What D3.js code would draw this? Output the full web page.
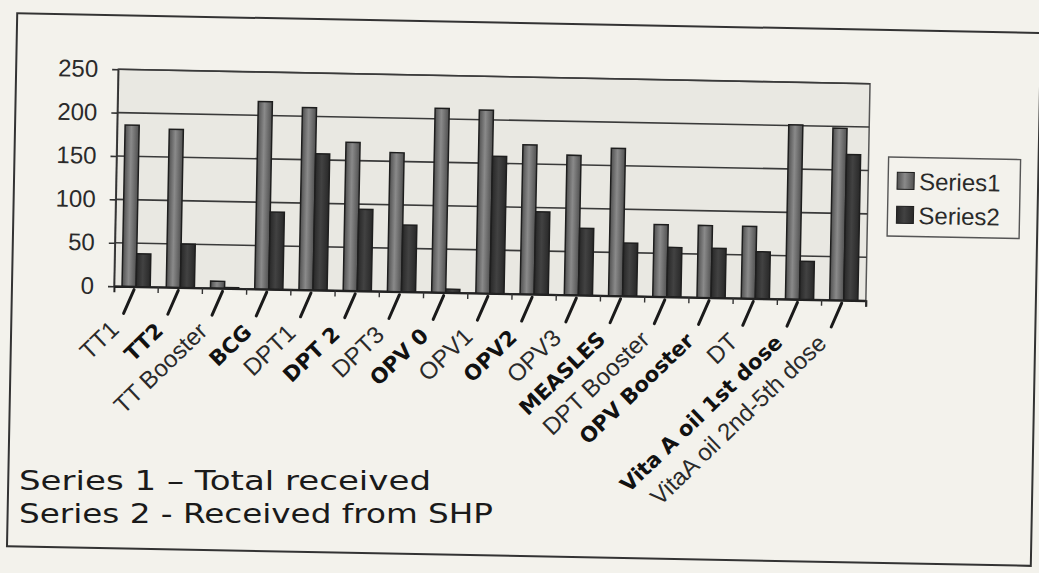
<!DOCTYPE html>
<html lang="en">
  <head>
    <meta charset="utf-8" />
    <title>Vaccines received</title>
    <style>
      html, body { margin: 0; padding: 0; background: #f3f2ec; }
      svg { display: block; }
    </style>
  </head>
  <body>
    <div id="graph-display"></div>

    <script src="https://d3js.org/d3.v7.min.js"></script>
    <script>
      // data
      const categories = ["TT1", "TT2", "TT Booster", "BCG", "DPT1", "DPT 2", "DPT3", "OPV 0",
        "OPV1", "OPV2", "OPV3", "MEASLES", "DPT Booster", "OPV Booster", "DT",
        "Vita A oil 1st dose", "VitaA oil 2nd-5th dose"];
      const series1 = [186, 182, 8, 216, 210, 171, 160, 212, 211, 172, 161, 170, 83, 83, 83, 201, 198];
      const series2 = [38, 50, 1, 89, 157, 94, 77, 4, 158, 95, 77, 61, 57, 57, 54, 44, 168];
      const seriesNames = ["Series1", "Series2"];
      const yTicks = [0, 50, 100, 150, 200, 250];
      // labels that were written over by hand on the paper
      const handLabels = ["TT2", "BCG", "DPT 2", "OPV 0", "OPV2", "MEASLES", "OPV Booster", "Vita A oil 1st dose"];
      const notes = ["Series 1 \u2013 Total received", "Series 2 - Received from SHP"];

      const width = 1039, height = 573;
      const plot = { left: 114, right: 866, top: 77, bottom: 294 };

      const svg = d3.select("#graph-display").append("svg")
        .attr("width", width).attr("height", height);

      const defs = svg.append("defs");
      const grad = (id, edge, mid) => {
        let g = defs.append("linearGradient").attr("id", id)
          .attr("x1", "0%").attr("x2", "100%").attr("y1", "0%").attr("y2", "0%");
        g.append("stop").attr("offset", "0%").attr("stop-color", edge);
        g.append("stop").attr("offset", "45%").attr("stop-color", mid);
        g.append("stop").attr("offset", "100%").attr("stop-color", edge);
      };
      grad("g1", "#505050", "#8a8a8a");
      grad("g2", "#282828", "#424242");
      const fills = ["url(#g1)", "url(#g2)"];

      // the scan is a little skewed, so the whole page is turned a bit
      const page = svg.append("g").attr("transform", "rotate(1.1, 520, 290)");

      // outer frame
      page.append("rect")
        .attr("x", 12).attr("y", 23).attr("width", 1024).attr("height", 533)
        .attr("fill", "none").attr("stroke", "#333").attr("stroke-width", 2);

      const x = d3.scaleBand().domain(categories).range([plot.left, plot.right]).padding(0);
      const xs = d3.scaleBand().domain(seriesNames).range([0, x.bandwidth()]).paddingOuter(0.57);
      const y = d3.scaleLinear().domain([0, 250]).range([plot.bottom, plot.top]);

      // plot area
      page.append("rect")
        .attr("x", plot.left).attr("y", plot.top)
        .attr("width", plot.right - plot.left).attr("height", plot.bottom - plot.top)
        .attr("fill", "#e9e8e2").attr("stroke", "#555").attr("stroke-width", 1.5);

      // gridlines
      page.append("g").selectAll("line").data(yTicks).enter().append("line")
        .attr("x1", plot.left).attr("x2", plot.right)
        .attr("y1", d => y(d)).attr("y2", d => y(d))
        .attr("stroke", "#3a3a3a").attr("stroke-width", 1.6);

      // bars
      const rows = categories.map((c, i) => ({ cat: c, vals: [series1[i], series2[i]] }));
      page.append("g").selectAll("g").data(rows).enter().append("g")
        .attr("transform", d => `translate(${x(d.cat)},0)`)
        .selectAll("rect")
        .data(d => d.vals.map((v, k) => ({ v, k })))
        .enter().append("rect")
        .attr("x", d => xs(seriesNames[d.k]))
        .attr("width", xs.bandwidth())
        .attr("y", d => y(d.v))
        .attr("height", d => y(0) - y(d.v))
        .attr("fill", d => fills[d.k])
        .attr("stroke", "#1e1e1e").attr("stroke-width", 1.5);

      // y axis
      const yAxis = page.append("g")
        .attr("transform", `translate(${plot.left},0)`)
        .call(d3.axisLeft(y).tickValues(yTicks).tickSize(6).tickPadding(14).tickSizeOuter(0));
      yAxis.select(".domain").attr("stroke", "#333").attr("stroke-width", 1.6);
      yAxis.selectAll(".tick line").attr("stroke", "#333").attr("stroke-width", 1.6);
      yAxis.selectAll(".tick text")
        .attr("fill", "#2a2a2a")
        .style("font-family", "'Liberation Sans', Arial, sans-serif")
        .style("font-size", "24px");

      // x axis, ticks sit between categories
      const xAxis = page.append("g")
        .attr("transform", `translate(0,${plot.bottom})`)
        .call(d3.axisBottom(x).tickSize(6).tickFormat("").tickSizeOuter(6));
      xAxis.select(".domain").attr("stroke", "#222").attr("stroke-width", 2);
      xAxis.selectAll(".tick line")
        .attr("transform", `translate(${x.bandwidth() / 2},0)`)
        .attr("stroke", "#333").attr("stroke-width", 1.4);

      // hand drawn strokes linking labels to bars
      page.append("g").selectAll("line").data(categories).enter().append("line")
        .attr("x1", d => x(d) + x.bandwidth() / 2 - 2)
        .attr("y1", plot.bottom + 3)
        .attr("x2", d => x(d) + x.bandwidth() / 2 - 12)
        .attr("y2", plot.bottom + 27)
        .attr("stroke", "#1a1a1a").attr("stroke-width", 3).attr("stroke-linecap", "round");

      // category labels at 45 degrees
      page.append("g").selectAll("text").data(categories).enter().append("text")
        .attr("transform", d => `translate(${x(d) + x.bandwidth() / 2 - 15},${plot.bottom + 45}) rotate(-45)`)
        .attr("text-anchor", "end")
        .attr("fill", d => handLabels.includes(d) ? "#111" : "#2a2a2a")
        .style("font-family", d => handLabels.includes(d) ? "'DejaVu Sans', sans-serif" : "'Liberation Sans', Arial, sans-serif")
        .style("font-weight", d => handLabels.includes(d) ? "bold" : "normal")
        .style("font-size", d => handLabels.includes(d) ? "21px" : "24px")
        .text(d => d);

      // legend
      const legend = page.append("g").attr("transform", "translate(886,150)");
      legend.append("rect")
        .attr("width", 132).attr("height", 79)
        .attr("fill", "#f3f2ec").attr("stroke", "#555").attr("stroke-width", 1.4);
      const item = legend.selectAll("g.item").data(seriesNames).enter().append("g")
        .attr("class", "item")
        .attr("transform", (d, i) => `translate(9,${24 + i * 34})`);
      item.append("rect")
        .attr("x", 0).attr("y", -9).attr("width", 17).attr("height", 17)
        .attr("fill", (d, i) => fills[i]).attr("stroke", "#1e1e1e").attr("stroke-width", 1);
      item.append("text")
        .attr("x", 22).attr("dy", "0.35em")
        .attr("fill", "#2a2a2a")
        .style("font-family", "'Liberation Sans', Arial, sans-serif")
        .style("font-size", "24px")
        .text(d => d);

      // handwritten notes below the chart (kept level so the lines don't collide)
      svg.append("g").selectAll("text").data(notes).enter().append("text")
        .attr("x", 19).attr("y", (d, i) => 490 + i * 33)
        .attr("textLength", (d, i) => [412, 474][i])
        .attr("lengthAdjust", "spacingAndGlyphs")
        .attr("fill", "#1a1a1a")
        .style("font-family", "'DejaVu Sans', sans-serif")
        .style("font-size", "26px")
        .text(d => d);
    </script>
  </body>
</html>
